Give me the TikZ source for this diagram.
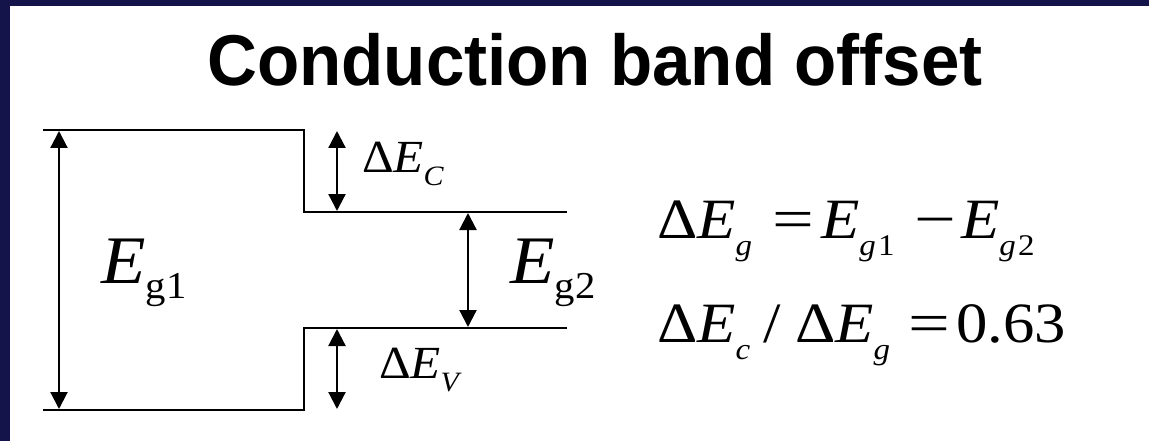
\documentclass[tikz,border=0pt]{standalone}
\usepackage{fontspec}
\usepackage{graphicx}
\setmainfont{Liberation Serif}
\newfontfamily\titlefont{Liberation Sans}
\usetikzlibrary{arrows.meta}
\definecolor{navy}{RGB}{21,20,74}
\newcommand\fsz[1]{\fontsize{#1pt}{#1pt}\selectfont}
\newcommand\lsub[3]{\raisebox{-#2pt}{\fsz{#1}#3}}
\newcommand\wideA[1]{\scalebox{1.07}[1]{#1}}
\newcommand\wideB[1]{\scalebox{1.1}[1]{#1}}
\newcommand\wideC[1]{\scalebox{1.3}[1]{#1}}
\begin{document}
\begin{tikzpicture}[x=1pt,y=-1pt,
  level/.style={line width=2.4pt, line join=miter},
  dimarrow/.style={{Triangle[length=17pt,width=17pt]}-{Triangle[length=17pt,width=17pt]}, line width=2.2pt},
  lbl/.style={anchor=base west, inner sep=0pt, outer sep=0pt},
]
\useasboundingbox (0,0) rectangle (1149,441);
\fill[white] (0,0) rectangle (1149,441);
\fill[navy] (0,0) rectangle (1149,6);
\fill[navy] (0,0) rectangle (10,441);
\node[anchor=base, inner sep=0pt, font=\titlefont\bfseries\fsz{72}] (title) at (595,86) {\scalebox{0.96}[1]{Conduction band offset}};
% band edges
\coordinate (tl) at (43,130);
\coordinate (tr) at (304,130);
\coordinate (cbL) at (304,212);
\coordinate (cbR) at (567,212);
\coordinate (vbL) at (304,328);
\coordinate (vbR) at (567,328);
\coordinate (br) at (304,410);
\coordinate (bl) at (43,410);
\draw[level] (tl) -- (tr) -- (cbL) -- (cbR);
\draw[level] (vbR) -- (vbL) -- (br) -- (bl);
% arrows
\coordinate (g1t) at (59,131);
\coordinate (g1b) at (59,409);
\coordinate (ect) at (337,131);
\coordinate (ecb) at (337,211);
\coordinate (g2t) at (468,213);
\coordinate (g2b) at (468,327);
\coordinate (evt) at (337,329);
\coordinate (evb) at (337,409);
\draw[dimarrow] (g1t) -- (g1b);
\draw[dimarrow] (ect) -- (ecb);
\draw[dimarrow] (g2t) -- (g2b);
\draw[dimarrow] (evt) -- (evb);
% labels
\node[lbl] (Eg1) at (101,283) {\wideA{{\fsz{68}\itshape E}\lsub{38}{15}{g\kern1pt 1}}};
\node[lbl] (Eg2) at (510,283) {\wideA{{\fsz{68}\itshape E}\lsub{38}{15}{g\kern1pt 2}}};
\node[lbl] (dEc) at (362,173) {\wideA{{\fsz{46}Δ\itshape E}\lsub{28}{13}{\itshape C}}};
\node[lbl] (dEv) at (379,378) {\wideA{{\fsz{46}Δ\itshape E}\lsub{28}{13}{\itshape V}}};
% equations
\node[lbl] (e1a) at (657,238) {\wideB{{\fsz{57}Δ\itshape E}\lsub{30}{17}{\itshape g}}};
\node[lbl] (e1b) at (772,238) {\wideC{\fsz{57}=}};
\node[lbl] (e1c) at (821,238) {\wideB{{\fsz{57}\itshape E}\lsub{30}{17}{{\itshape g}\kern2pt 1}}};
\node[lbl] (e1d) at (914,238) {\wideC{\fsz{57}−}};
\node[lbl] (e1e) at (961,238) {\wideB{{\fsz{57}\itshape E}\lsub{30}{17}{{\itshape g}\kern2pt 2}}};
\node[lbl] (e2a) at (657,342) {\wideB{{\fsz{57}Δ\itshape E}\lsub{30}{17}{\itshape c}}};
\node[lbl] (e2b) at (763,342) {\wideB{\fsz{57}/}};
\node[lbl] (e2c) at (795,342) {\wideB{{\fsz{57}Δ\itshape E}\lsub{30}{17}{\itshape g}}};
\node[lbl] (e2d) at (908,342) {\wideC{\fsz{57}=}};
\node[lbl] (e2e) at (956,342) {\wideB{\fsz{57}0.63}};
\end{tikzpicture}
\end{document}
